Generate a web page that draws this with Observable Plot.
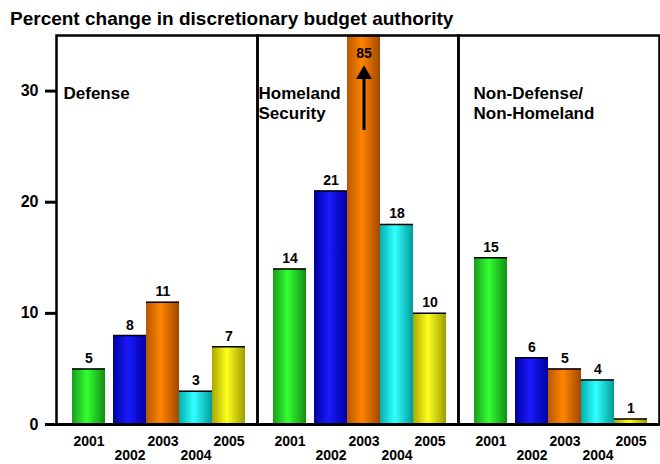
<!DOCTYPE html>
<html>
<head>
<meta charset="utf-8">
<script src="https://cdn.jsdelivr.net/npm/d3@7"></script>
<script src="https://cdn.jsdelivr.net/npm/@observablehq/plot@0.6"></script>
<style>
  html, body { margin: 0; padding: 0; background: #fff; }
  #title { height: 30px; box-sizing: border-box; padding: 9px 0 0 10px; font: bold 19px/19px "Liberation Sans", Arial, sans-serif; color: #000; white-space: nowrap; }
  #chart svg g[aria-label^="y-axis"] text { font-size: 16px; font-weight: bold; }
  #chart svg g[aria-label^="y-axis"] line,
  #chart svg g[aria-label^="y-axis"] path { stroke-width: 3px; stroke: #000; }
</style>
</head>
<body>
<div id="title">Percent change in discretionary budget authority</div>
<div id="chart"></div>
<script>
// ---- data ----
const panels = ["Defense", "Homeland Security", "Non-Defense/Non-Homeland"];
const panelLabels = ["Defense", "Homeland\nSecurity", "Non-Defense/\nNon-Homeland"];
const years = ["2001", "2002", "2003", "2004", "2005"];
const defense = [5, 8, 11, 3, 7];
const homeland = [14, 21, 85, 18, 10];
const nonDefense = [15, 6, 5, 4, 0.5];
const yTicks = [0, 10, 20, 30];

// gradient colours per year: [edge-left, bright, edge-right]
const gradients = [
  ["#1c9c1c", "#33ff33", "#128e12"],
  ["#00009c", "#1a1aff", "#0000a4"],
  ["#b85800", "#ff8400", "#a04800"],
  ["#00b0b0", "#33ffff", "#009c9c"],
  ["#a8a800", "#ffff1e", "#9c9c00"]
];

const series = [defense, homeland, nonDefense];
const rows = panels.flatMap((p, i) => years.map((y, j) => ({panel: p, year: y, value: series[i][j]})));

const yMax = 35;
const font = '"Liberation Sans", Arial, sans-serif';

const marks = [];
years.forEach((yr, j) => {
  const dx = j === 0 ? -8 : 0;
  marks.push(
    Plot.barY(rows, {filter: d => d.year === yr, x: "year", y: "value", fill: `url(#grad${j})`, dx}),
    Plot.tickY(rows, {filter: d => d.year === yr, x: "year", y: "value", stroke: "#000", strokeWidth: 1.5, dx}),
    Plot.text(rows, {filter: d => d.year === yr && d.value <= yMax, x: "year", y: "value",
      text: d => String(Math.round(d.value)), lineAnchor: "bottom", dy: -6, dx, fontSize: 14}),
    Plot.text(rows, {filter: d => d.year === yr, x: "year", frameAnchor: "bottom", text: "year",
      lineAnchor: "top", dy: j % 2 === 0 ? 12 : 26, dx, fontSize: 14})
  );
});

// clipped bar annotation (value beyond the axis)
marks.push(
  Plot.text(rows, {filter: d => d.value > yMax, x: "year", frameAnchor: "top", text: d => String(d.value),
    lineAnchor: "top", dy: 13, fontSize: 14}),
  Plot.ruleX(rows, {filter: d => d.value > yMax, x: "year", stroke: "#000", strokeWidth: 3, insetTop: 43, insetBottom: 294}),
  Plot.dot(rows, {filter: d => d.value > yMax, x: "year", frameAnchor: "top", dy: 39, symbol: "triangle", r: 5.9, fill: "#000", stroke: "none"})
);

// panel labels
const labelDx = [7, 1, 15];
panels.forEach((p, i) => {
  marks.push(Plot.text(rows, {filter: d => d.panel === p && d.year === years[0], frameAnchor: "top-left",
    text: () => panelLabels[i], textAnchor: "start", lineAnchor: "top", lineHeight: 1.2,
    dx: labelDx[i], dy: 49, fontSize: 17}));
});

marks.push(
  Plot.ruleY([0], {stroke: "#000", strokeWidth: 3}),
  Plot.frame({stroke: "#000", strokeWidth: 2.5})
);

const svg = Plot.plot({
  width: 660,
  height: 434,
  marginTop: 5,
  marginBottom: 40,
  marginLeft: 56,
  marginRight: 1,
  style: {fontFamily: font, fontSize: "14px", fontWeight: "bold", color: "#000", background: "#fff"},
  facet: {data: rows, x: "panel"},
  fx: {domain: panels, padding: 0, axis: null, label: null},
  x: {domain: years, paddingInner: 0, paddingOuter: 0.5, align: 0.67, axis: null},
  y: {domain: [0, yMax], clamp: true, ticks: yTicks, tickSize: 11, tickPadding: 7, label: null},
  marks
});

const defs = d3.select(svg).insert("defs", ":first-child");
gradients.forEach((c, j) => {
  const lg = defs.append("linearGradient").attr("id", `grad${j}`)
    .attr("x1", 0).attr("x2", 1).attr("y1", 0).attr("y2", 0);
  lg.append("stop").attr("offset", 0).attr("stop-color", c[0]);
  lg.append("stop").attr("offset", 0.45).attr("stop-color", c[1]);
  lg.append("stop").attr("offset", 1).attr("stop-color", c[2]);
});

document.getElementById("chart").appendChild(svg);
</script>
</body>
</html>
